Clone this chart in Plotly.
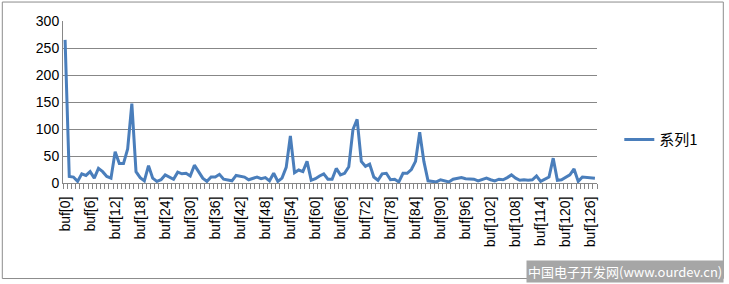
import plotly.graph_objects as go

categories = [f"buf[{i}]" for i in range(128)]
values = [265, 12, 11, 3, 17, 14, 21, 9, 27, 21,
          12, 9, 58, 36, 36, 63, 147, 21, 10, 4,
          32, 9, 3, 6, 15, 11, 7, 20, 17, 18,
          13, 33, 22, 9, 3, 11, 11, 16, 7, 6,
          4, 14, 12, 11, 6, 9, 11, 8, 10, 4,
          18, 3, 9, 29, 87, 19, 24, 21, 40, 5,
          8, 13, 17, 7, 7, 27, 15, 18, 30, 99,
          118, 40, 31, 35, 11, 5, 17, 18, 6, 7,
          2, 18, 18, 25, 40, 94, 40, 4, 3, 2,
          6, 4, 2, 7, 9, 10, 8, 8, 7, 4,
          7, 9, 6, 4, 7, 6, 10, 15, 9, 5,
          6, 5, 6, 13, 3, 7, 11, 46, 5, 6,
          11, 15, 26, 3, 11, 10, 10, 9]
series_name = "系列1"
y_ticks = [0, 50, 100, 150, 200, 250, 300]
tick_text = [c if i % 6 == 0 else "" for i, c in enumerate(categories)]

W, H = 729, 284
L, R, T, B = 62.7, 596.7, 21.0, 183.3
pw, ph = R - L, B - T

def px(x):
    return (x - L) / pw

def py(y):
    return (B - y) / ph

grid = "#878787"
fig = go.Figure()
fig.add_trace(go.Scatter(x=categories, y=values, mode="lines", name=series_name,
                         line=dict(color="#4A7EBB", width=3)))

fig.update_layout(
    width=W, height=H,
    margin=dict(l=L, r=W - R, t=T, b=H - B, pad=0),
    paper_bgcolor="white", plot_bgcolor="white",
    font=dict(family="Liberation Sans, Arial, sans-serif", size=13, color="#000000"),
    showlegend=True,
    legend=dict(x=px(619), y=py(140), xanchor="left", yanchor="middle",
                font=dict(family="Noto Sans CJK SC", size=15, color="#000000"),
                bgcolor="rgba(0,0,0,0)", itemwidth=30),
    xaxis=dict(type="category", tickmode="array", tickvals=categories, ticktext=tick_text,
               tickangle=-90, tickson="boundaries", ticks="outside", ticklen=5,
               tickcolor=grid, showline=True, linecolor=grid, linewidth=1,
               showgrid=False, range=[-0.5, 127.5], tickfont=dict(size=14),
               ticklabelstandoff=7),
    yaxis=dict(range=[0, 300], tickvals=y_ticks, showgrid=True, gridcolor=grid,
               gridwidth=1, showline=True, linecolor=grid, linewidth=1,
               ticks="", zeroline=False, tickfont=dict(size=14)),
    shapes=[dict(type="rect", xref="paper", yref="paper",
                 x0=px(2), x1=px(723), y0=py(279), y1=py(2),
                 line=dict(color="#8c8c8c", width=1), layer="below")],
    annotations=[dict(xref="paper", yref="paper", x=px(724), y=py(272),
                      xanchor="right", yanchor="middle", showarrow=False,
                      text="中国电子开发网(www.ourdev.cn)", bgcolor="#a6a6a6",
                      font=dict(family="Noto Sans CJK SC", size=13, color="white"),
                      borderpad=1)],
)
fig.write_html("out.html")
